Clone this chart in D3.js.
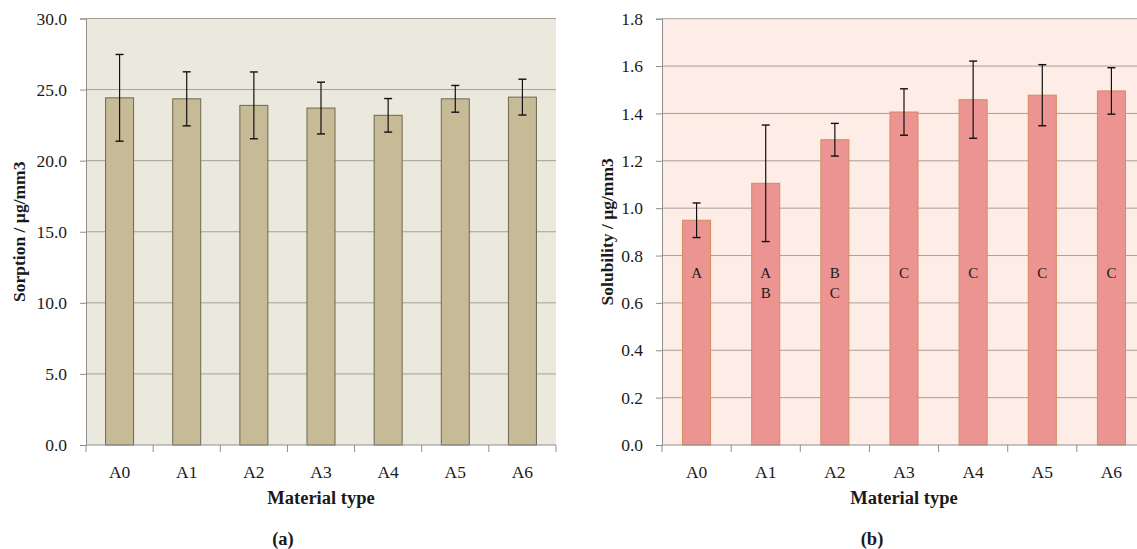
<!DOCTYPE html>
<html>
<head>
<meta charset="utf-8">
<script src="https://cdn.jsdelivr.net/npm/d3@7"></script>
<style>
  html, body { margin: 0; padding: 0; background: #ffffff; }
  svg { display: block; }
  text { font-family: "Liberation Serif", "DejaVu Serif", serif; fill: #1a1a1a; }
</style>
</head>
<body>
<svg id="chart" width="1137" height="549"></svg>
<script>
// Material types shown on both panels
const materials = ["A0", "A1", "A2", "A3", "A4", "A5", "A6"];

// Panel (a): water sorption, mean and standard deviation
const sorptionMean = [24.42, 24.35, 23.89, 23.70, 23.19, 24.35, 24.47];
const sorptionSD   = [3.05, 1.90, 2.35, 1.82, 1.18, 0.94, 1.26];
const sorptionTicks = [0, 5, 10, 15, 20, 25, 30];

// Panel (b): solubility, mean and standard deviation
const solubilityMean = [0.949, 1.105, 1.289, 1.406, 1.458, 1.477, 1.495];
const solubilitySD   = [0.073, 0.246, 0.069, 0.098, 0.163, 0.129, 0.098];
const solubilityTicks = [0, 0.2, 0.4, 0.6, 0.8, 1.0, 1.2, 1.4, 1.6, 1.8];
// Homogeneous-group letters written inside the solubility bars
const solubilityGroups = [["A"], ["A", "B"], ["B", "C"], ["C"], ["C"], ["C"], ["C"]];

const svg = d3.select("#chart");

function drawPanel(opt) {
  const g = svg.append("g");
  const x = d3.scaleBand().domain(materials).range([opt.left, opt.right]).paddingInner(0).paddingOuter(0);
  const y = d3.scaleLinear().domain([0, opt.max]).range([opt.bottom, opt.top]);
  const bw = x.bandwidth() * opt.barFrac;

  // plot background
  g.append("rect")
    .attr("x", opt.left).attr("y", opt.top)
    .attr("width", opt.right - opt.left).attr("height", opt.bottom - opt.top)
    .attr("fill", opt.bg);

  // horizontal gridlines
  g.selectAll("line.grid").data(opt.ticks.filter(t => t > 0)).enter().append("line")
    .attr("class", "grid")
    .attr("x1", opt.left).attr("x2", opt.right)
    .attr("y1", d => y(d)).attr("y2", d => y(d))
    .attr("stroke", opt.gridColor).attr("stroke-width", 1);

  // bars
  g.selectAll("rect.bar").data(opt.mean).enter().append("rect")
    .attr("class", "bar")
    .attr("x", (d, i) => x(materials[i]) + (x.bandwidth() - bw) / 2)
    .attr("y", d => y(d))
    .attr("width", bw)
    .attr("height", d => y(0) - y(d))
    .attr("fill", opt.barFill)
    .attr("stroke", opt.barStroke)
    .attr("stroke-width", 1);

  // error bars
  const cap = 4;
  const eb = g.selectAll("g.err").data(opt.mean).enter().append("g").attr("class", "err");
  eb.append("line")
    .attr("x1", (d, i) => x(materials[i]) + x.bandwidth() / 2)
    .attr("x2", (d, i) => x(materials[i]) + x.bandwidth() / 2)
    .attr("y1", (d, i) => y(d + opt.sd[i]))
    .attr("y2", (d, i) => y(d - opt.sd[i]))
    .attr("stroke", "#111").attr("stroke-width", 1.2);
  [1, -1].forEach(s => {
    eb.append("line")
      .attr("x1", (d, i) => x(materials[i]) + x.bandwidth() / 2 - cap)
      .attr("x2", (d, i) => x(materials[i]) + x.bandwidth() / 2 + cap)
      .attr("y1", (d, i) => y(d + s * opt.sd[i]))
      .attr("y2", (d, i) => y(d + s * opt.sd[i]))
      .attr("stroke", "#111").attr("stroke-width", 1.4);
  });

  // y axis
  const yAxis = d3.axisLeft(y).tickValues(opt.ticks).tickFormat(d3.format(".1f"))
    .tickSize(6).tickPadding(13);
  const ya = g.append("g").attr("transform", `translate(${opt.left},0)`).call(yAxis);
  ya.select(".domain").attr("stroke", opt.axisColor);
  ya.selectAll(".tick line").attr("stroke", opt.axisColor);
  ya.selectAll(".tick text")
    .attr("font-family", "Liberation Serif, serif").attr("font-size", 17.5).attr("fill", "#1a1a1a");

  // x axis: ticks at category boundaries
  const xa = g.append("g").attr("transform", `translate(0,${opt.bottom})`);
  xa.append("line").attr("x1", opt.left).attr("x2", opt.right)
    .attr("stroke", opt.axisColor);
  const bounds = materials.map(m => x(m)).concat([opt.right]);
  xa.selectAll("line.tk").data(bounds).enter().append("line")
    .attr("class", "tk")
    .attr("x1", d => d).attr("x2", d => d).attr("y1", 0).attr("y2", 7)
    .attr("stroke", opt.axisColor);
  xa.selectAll("text").data(materials).enter().append("text")
    .attr("x", d => x(d) + x.bandwidth() / 2)
    .attr("y", 33)
    .attr("text-anchor", "middle")
    .attr("font-size", 17.5)
    .text(d => d);

  // axis titles
  g.append("text")
    .attr("x", (opt.left + opt.right) / 2).attr("y", 504)
    .attr("text-anchor", "middle").attr("font-weight", "bold").attr("font-size", 18.5)
    .text("Material type");
  g.append("text")
    .attr("transform", `translate(${opt.yTitleX},${(opt.top + opt.bottom) / 2}) rotate(-90)`)
    .attr("text-anchor", "middle").attr("font-weight", "bold").attr("font-size", 17.5)
    .text(opt.yTitle);
  g.append("text")
    .attr("x", opt.tagX).attr("y", 545)
    .attr("text-anchor", "middle").attr("font-weight", "bold").attr("font-size", 18.5)
    .text(opt.tag);

  return { g, x, y };
}

drawPanel({
  left: 86, right: 556, top: 18.5, bottom: 445, max: 30,
  ticks: sorptionTicks, mean: sorptionMean, sd: sorptionSD,
  barFrac: 0.417, bg: "#EBE9DD", barFill: "#C7BA97", barStroke: "#6E6850",
  gridColor: "#A3A196", axisColor: "#8E8E8E",
  yTitle: "Sorption / µg/mm3", yTitleX: 25, tag: "(a)", tagX: 283
});

const pb = drawPanel({
  left: 662, right: 1146, top: 18.7, bottom: 445, max: 1.8,
  ticks: solubilityTicks, mean: solubilityMean, sd: solubilitySD,
  barFrac: 0.405, bg: "#FDEDE6", barFill: "#EB9491", barStroke: "#D5895E",
  gridColor: "#A89E99", axisColor: "#8E8E8E",
  yTitle: "Solubility / µg/mm3", yTitleX: 613, tag: "(b)", tagX: 872
});

// group letters inside the solubility bars
solubilityGroups.forEach((letters, i) => {
  letters.forEach((L, j) => {
    pb.g.append("text")
      .attr("x", pb.x(materials[i]) + pb.x.bandwidth() / 2)
      .attr("y", pb.y(0.705) + j * 20)
      .attr("text-anchor", "middle")
      .attr("font-size", 15)
      .text(L);
  });
});
</script>
</body>
</html>
